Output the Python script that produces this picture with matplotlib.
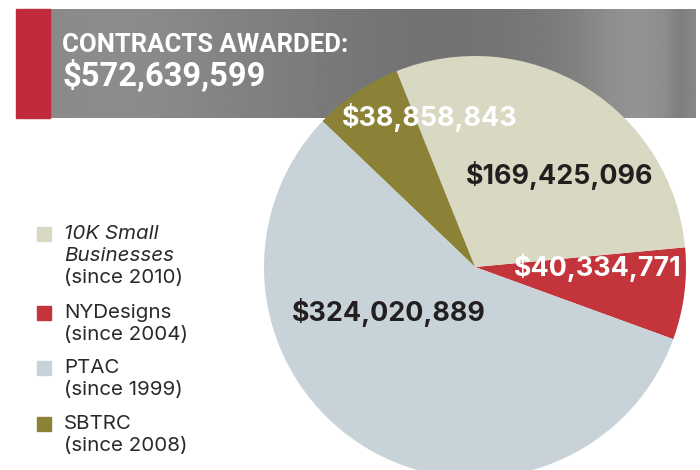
import numpy as np
import matplotlib
matplotlib.use("Agg")
import matplotlib.pyplot as plt
from matplotlib.patches import Rectangle

# ---- data ----
programs = ["10K Small Businesses", "NYDesigns", "PTAC", "SBTRC"]
since = ["(since 2010)", "(since 2004)", "(since 1999)", "(since 2008)"]
amounts = [169425096, 40334771, 324020889, 38858843]
colors = ["#d9d8c2", "#c4343b", "#c7d3d8", "#8b8237"]
total_label = "$572,639,599"
title = "CONTRACTS AWARDED:"

W, H = 700, 470
fig = plt.figure(figsize=(W / 100, H / 100), dpi=100)
fig.patch.set_facecolor("white")

# ---- background banner ----
bg = fig.add_axes([0, 0, 1, 1], zorder=0)
bg.set_xlim(0, W)
bg.set_ylim(H, 0)
bg.axis("off")
xs = np.linspace(0, 1, 400)
prof = (0.52 + 0.03 * np.exp(-((xs - 0.1) / 0.15) ** 2)
        - 0.07 * np.exp(-((xs - 0.6) / 0.25) ** 2)
        + 0.07 * np.exp(-((xs - 0.9) / 0.08) ** 2)
        - 0.04 * np.exp(-((xs - 0.975) / 0.015) ** 2))
grad = np.tile(prof, (40, 1))
bg.imshow(grad, cmap="gray", vmin=0, vmax=1, extent=[50, 696, 118, 9],
          aspect="auto", interpolation="bilinear", zorder=1)
bg.add_patch(Rectangle((16, 9), 34, 109, color="#c12a3a", zorder=2))
bg.text(62, 45, title, color="white", fontsize=18.5, fontweight="bold",
        family="Roboto", va="center", ha="left", zorder=3)
bg.text(62, 77, total_label, color="white", fontsize=23.5, fontweight="bold",
        family="Roboto", va="center", ha="left", zorder=3)

# ---- legend ----
leg_y = [234, 313, 368, 424]
fs_leg = 14.8
txt_col = "#2a2a2a"
for idx, y0 in enumerate(leg_y):
    bg.add_patch(Rectangle((37, y0 - 7), 14, 14, color=colors[idx], zorder=3))
    if idx == 0:
        parts = ["10K Small", "Businesses"]
        for k, p in enumerate(parts):
            bg.text(64, y0 + 22 * k, p, fontsize=fs_leg, style="italic",
                    family="Inter", color=txt_col, va="center", ha="left")
        bg.text(64, y0 + 44, since[idx], fontsize=fs_leg, family="Inter",
                color=txt_col, va="center", ha="left")
    else:
        bg.text(64, y0, programs[idx], fontsize=fs_leg, family="Inter",
                color=txt_col, va="center", ha="left")
        bg.text(64, y0 + 22, since[idx], fontsize=fs_leg, family="Inter",
                color=txt_col, va="center", ha="left")

# ---- pie ----
cx, cy, r = 475, 267, 211
ax = fig.add_axes([(cx - r) / W, (H - cy - r) / H, 2 * r / W, 2 * r / H], zorder=1)
order = [1, 0, 3, 2]  # counter-clockwise from the right: red, tan, olive, PTAC
wedges, _ = ax.pie([amounts[i] for i in order], colors=[colors[i] for i in order],
                   startangle=-20, counterclock=True, radius=1,
                   wedgeprops=dict(linewidth=0))
ax.set_xlim(-1, 1)
ax.set_ylim(-1, 1)
ax.set_aspect("auto")
ax.axis("off")
for w in wedges:
    w.set_clip_on(False)

# label placement (radius fraction, angle in deg) per program
label_pos = {0: (0.59, 47), 1: (0.58, 0), 2: (0.46, 208), 3: (0.74, 107)}
label_col = {0: "#231f20", 1: "white", 2: "#231f20", 3: "white"}
for i in range(len(programs)):
    rr, ang = label_pos[i]
    t = np.deg2rad(ang)
    ax.text(rr * np.cos(t), rr * np.sin(t), "${:,}".format(amounts[i]),
            ha="center", va="center", fontsize=19.3, fontweight="bold",
            family="Inter", color=label_col[i], clip_on=False)

fig.savefig("out.png", dpi=100)
